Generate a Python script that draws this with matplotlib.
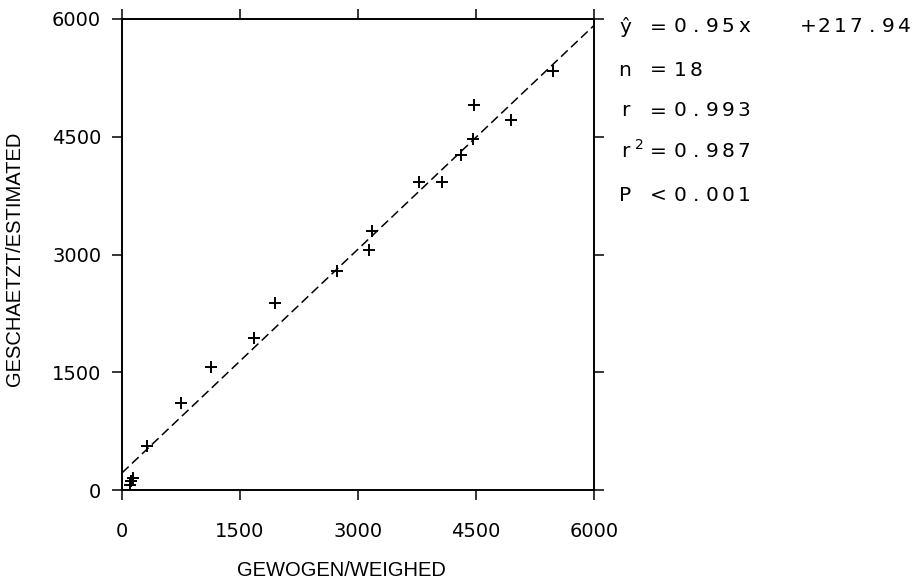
import matplotlib
matplotlib.use("Agg")
from matplotlib import pyplot as plt

# weighed vs estimated values
weighed = [5481, 4473, 4939, 4464, 4304, 3778, 4070, 3173, 3143,
           2728, 1948, 1681, 1127, 746, 322, 140, 110, 100]
estimated = [5341, 4908, 4717, 4475, 4271, 3927, 3924, 3295, 3057,
             2794, 2386, 1932, 1563, 1112, 564, 150, 120, 70]

slope = 0.95
intercept = 217.94
fit_x = [0, 6000]

ticks = [0, 1500, 3000, 4500, 6000]
stat_symbols = ["\u0177", "n", "r", "r\u00b2", "P"]
stat_ops = ["=", "=", "=", "", "<"]
stat_values = ["0.95x   +217.94", "18", "0.993", "0.987", "0.001"]

W, H = 922, 584
fig = plt.figure(figsize=(W / 100, H / 100), dpi=100)
ax = fig.add_axes([122 / W, 1 - 490 / H, (594 - 122) / W, (490 - 19) / H])

fit_y = [slope * v + intercept for v in fit_x]
ax.plot(fit_x, fit_y, color="black", lw=1.1, dashes=(6, 3))
ax.plot(weighed, estimated, ls="none", marker="+", ms=8, mew=1.4, color="black")

ax.set_xlim(0, 6000)
ax.set_ylim(0, 6000)
ax.set_xticks(ticks)
ax.set_yticks(ticks)
for s in ax.spines.values():
    s.set_linewidth(1.4)
ax.tick_params(direction="out", length=7, width=1.1, labelsize=14,
               top=True, right=True)
ax.tick_params(axis="x", pad=16)
ax.tick_params(axis="y", pad=8)

# axis titles
fig.text(341 / W, 1 - 570 / H, "GEWOGEN/WEIGHED", fontsize=14.5,
         family="Liberation Sans", ha="center", va="center")
fig.text(15 / W, 1 - 259 / H, "GESCHAETZT/ESTIMATED", fontsize=14.5,
         family="Liberation Sans", ha="center", va="center", rotation=90)

# stats block on the right, drawn with a fixed character pitch
rows_y = [27, 70, 111, 152, 195]
pitch = 16
fs = 14.5
for sym, op, val, yy in zip(stat_symbols, stat_ops, stat_values, rows_y):
    fy = 1 - yy / H
    if sym == "r\u00b2":
        fig.text(625 / W, fy, "r", fontsize=fs, va="center", ha="center")
        fig.text(639 / W, fy + 7 / H, "2", fontsize=10, va="center", ha="center")
        fig.text(658 / W, fy, "=", fontsize=fs, va="center", ha="center")
    else:
        fig.text(625 / W, fy, sym, fontsize=fs, va="center", ha="center")
        fig.text(658 / W, fy, op, fontsize=fs, va="center", ha="center")
    for i, ch in enumerate(val):
        if ch != " ":
            fig.text((680 + i * pitch) / W, fy, ch, fontsize=fs,
                     va="center", ha="center")

fig.savefig("out.png", dpi=100)
